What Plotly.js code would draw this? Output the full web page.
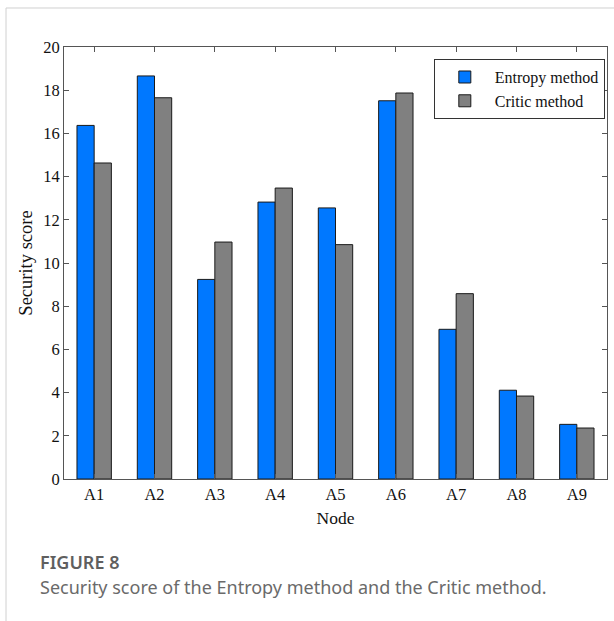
<!DOCTYPE html>
<html>
<head>
<meta charset="utf-8">
<script src="https://cdn.plot.ly/plotly-3.0.1.min.js"></script>
<style>
html,body{margin:0;padding:0;background:#fff;}
#chart{width:614px;height:621px;}
</style>
</head>
<body>
<div id="chart"></div>
<script>
var nodes = ["A1","A2","A3","A4","A5","A6","A7","A8","A9"];
var entropyScores = [16.37, 18.66, 9.24, 12.82, 12.55, 17.51, 6.93, 4.11, 2.53];
var criticScores = [14.63, 17.65, 10.97, 13.47, 10.85, 17.87, 8.58, 3.84, 2.36];
var yTicks = [0,2,4,6,8,10,12,14,16,18,20];

var serif = "Liberation Serif, Times New Roman, serif";
var sans = "Noto Sans, Open Sans, sans-serif";

var traces = [
  {type:"bar", name:"Entropy method", x:nodes, y:entropyScores,
   marker:{color:"#0078ff", line:{color:"#1a1a1a", width:1}}},
  {type:"bar", name:"Critic method", x:nodes, y:criticScores,
   marker:{color:"#808080", line:{color:"#1a1a1a", width:1}}}
];

var layout = {
  width:614, height:621,
  margin:{l:64, r:7, t:47, b:142},
  paper_bgcolor:"#fff", plot_bgcolor:"#fff",
  barmode:"group", bargap:0.43, bargroupgap:0,
  showlegend:true,
  legend:{x:0.996, xanchor:"right", y:0.972, yanchor:"top",
          bordercolor:"#333", borderwidth:1, bgcolor:"#fff", itemwidth:50,
          font:{family:serif, size:16, color:"#111"}, tracegroupgap:0},
  font:{family:serif, color:"#111"},
  xaxis:{type:"category", range:[-0.5,8.5], showline:true, linecolor:"#555", linewidth:1,
         mirror:"ticks", ticks:"inside", ticklen:5, tickcolor:"#555", showgrid:false,
         tickfont:{family:serif, size:16.5, color:"#111"},
         title:{text:"Node", font:{family:serif, size:17.5, color:"#111"}, standoff:8}},
  yaxis:{range:[0,20], tickvals:yTicks, showline:true, linecolor:"#555", linewidth:1,
         mirror:"ticks", ticks:"inside", ticklen:5, tickcolor:"#555", showgrid:false, zeroline:false,
         tickfont:{family:serif, size:16.5, color:"#111"},
         title:{text:"Security score", font:{family:serif, size:18.5, color:"#111"}, standoff:5}},
  shapes:[
    {type:"line", xref:"paper", yref:"paper", x0:-0.1068, x1:1.02, y0:1.0903, y1:1.0903,
     line:{color:"#d0d0d0", width:1}},
    {type:"line", xref:"paper", yref:"paper", x0:-0.1068, x1:-0.1068, y0:1.0903, y1:-0.34,
     line:{color:"#d0d0d0", width:1}}
  ],
  annotations:[
    {xref:"paper", yref:"paper", x:-0.048, y:-0.192, xanchor:"left", yanchor:"middle",
     text:"FIGURE 8", showarrow:false,
     font:{family:sans, size:18, weight:600, color:"#5f5f5f"}},
    {xref:"paper", yref:"paper", x:-0.048, y:-0.249, xanchor:"left", yanchor:"middle",
     text:"Security score of the Entropy method and the Critic method.", showarrow:false,
     font:{family:sans, size:18, color:"#6a6a6a"}}
  ]
};

Plotly.newPlot("chart", traces, layout, {displayModeBar:false, staticPlot:true});
</script>
</body>
</html>
